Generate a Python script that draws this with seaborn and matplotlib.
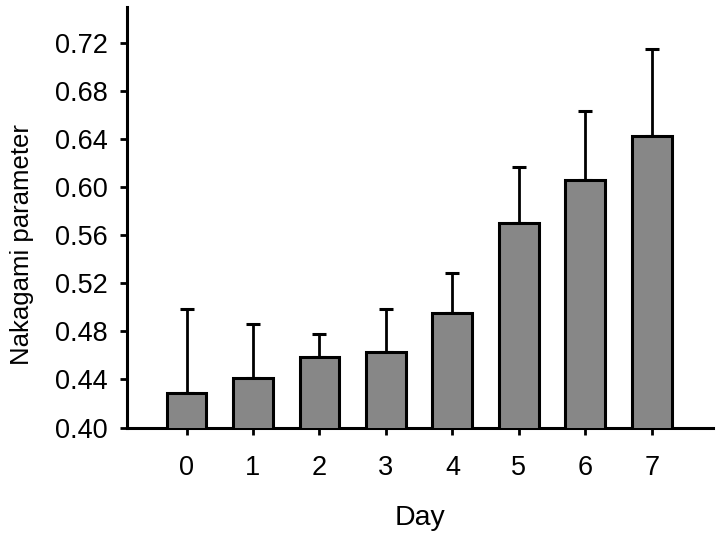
import matplotlib
matplotlib.use("Agg")
import matplotlib.pyplot as plt
import seaborn as sns
import pandas as pd
import numpy as np

days = ["0", "1", "2", "3", "4", "5", "6", "7"]
means = [0.4285, 0.4409, 0.4589, 0.4628, 0.4950, 0.5705, 0.6060, 0.6426]
errors = [0.0699, 0.0455, 0.0187, 0.0361, 0.0340, 0.0465, 0.0574, 0.0724]
yticks = [0.40, 0.44, 0.48, 0.52, 0.56, 0.60, 0.64, 0.68, 0.72]

sns.set_theme(style="ticks")
plt.rcParams['font.family'] = ['Liberation Sans', 'DejaVu Sans']

df = pd.DataFrame({"Day": days, "value": means})

fig = plt.figure(figsize=(7.2, 5.37), dpi=100)
ax = fig.add_axes([0.1764, 0.2039, 0.8136, 0.7831])

sns.barplot(data=df, x="Day", y="value", order=days, color="#878787",
            saturation=1, width=0.6, edgecolor="black", linewidth=2.2,
            errorbar=None, ax=ax, zorder=3)

centers = [p.get_x() + p.get_width() / 2 for p in ax.patches]
ax.errorbar(centers, means, yerr=[np.zeros(len(errors)), errors], fmt="none",
            ecolor="black", elinewidth=2.0, capsize=5, capthick=2.2, zorder=2)

ax.set_ylim(0.40, 0.75)
ax.set_xlim(-0.895, 7.917)
ax.set_yticks(yticks)
ax.set_yticklabels([f"{t:.2f}" for t in yticks])

for s in ["top", "right"]:
    ax.spines[s].set_visible(False)
for s in ["left", "bottom"]:
    ax.spines[s].set_linewidth(2.2)
    ax.spines[s].set_color("black")

ax.tick_params(axis="y", direction="out", length=5, width=2.0, pad=9,
               labelsize=19.5, colors="black")
ax.tick_params(axis="x", direction="out", length=5, width=2.0, pad=15,
               labelsize=19.5, colors="black")

ax.set_xlabel("Day", fontsize=20.5, color="black", labelpad=17)
ax.set_ylabel("Nakagami parameter", fontsize=18.5, color="black")
ax.yaxis.set_label_coords(-0.159, 0.436)

fig.savefig("out.png", dpi=100)
